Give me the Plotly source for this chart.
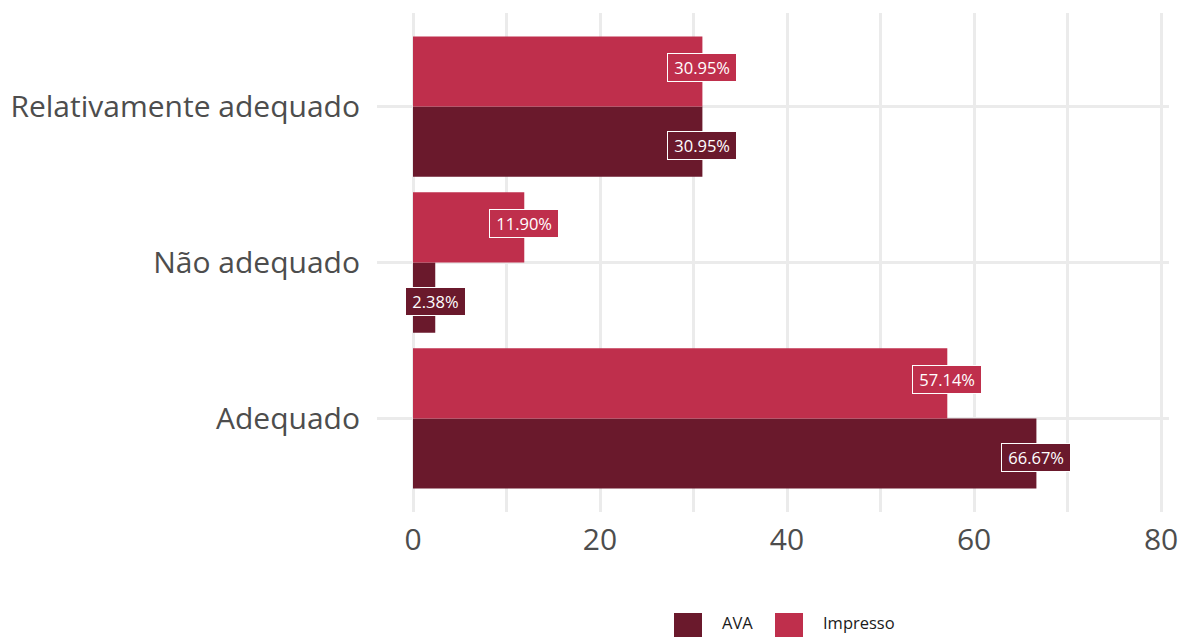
import plotly.graph_objects as go

categories = ["Adequado", "Não adequado", "Relativamente adequado"]
ava = [66.67, 2.38, 30.95]
impresso = [57.14, 11.90, 30.95]
series_names = ["AVA", "Impresso"]
x_ticks = [0, 20, 40, 60, 80]

C_AVA = "#6A192C"
C_IMP = "#BF2F4C"
FONT = "Open Sans"

ypos = list(range(len(categories)))

fig = go.Figure()
fig.add_trace(go.Bar(y=ypos, x=ava, orientation="h", name=series_names[0],
                     marker=dict(color=C_AVA, line=dict(width=0)), showlegend=False))
fig.add_trace(go.Bar(y=ypos, x=impresso, orientation="h", name=series_names[1],
                     marker=dict(color=C_IMP, line=dict(width=0)), showlegend=False))

ann = []
def lab(v):
    return f"&nbsp;{v:.2f}%&nbsp;"
for i, v in enumerate(ava):
    ann.append(dict(x=v, y=i - 0.25, xref="x", yref="y", text=lab(v), showarrow=False,
                    font=dict(family=FONT, size=16.5, color="white"), bgcolor=C_AVA,
                    bordercolor="white", borderwidth=1, borderpad=2))
for i, v in enumerate(impresso):
    ann.append(dict(x=v, y=i + 0.25, xref="x", yref="y", text=lab(v), showarrow=False,
                    font=dict(family=FONT, size=16.5, color="white"), bgcolor=C_IMP,
                    bordercolor="white", borderwidth=1, borderpad=2))

# manual legend (pixel geometry -> paper coords)
L, R, T, B = 377, 1169, 13, 512
W, H = R - L, B - T
def px(x):
    return (x - L) / W
def py(y):
    return (B - y) / H

shapes = []
for (x0, col, name, tx) in [(674, C_AVA, series_names[0], 720), (775, C_IMP, series_names[1], 821)]:
    shapes.append(dict(type="rect", xref="paper", yref="paper", x0=px(x0), x1=px(x0 + 28),
                       y0=py(613), y1=py(640), fillcolor=col, line=dict(width=0), layer="above"))
    ann.append(dict(x=px(tx), y=py(636), xref="paper", yref="paper", text=name, showarrow=False,
                    xanchor="left", yanchor="bottom", font=dict(family=FONT, size=16.5, color="#1A1A1A")))

fig.update_layout(
    width=1187, height=637,
    margin=dict(l=L, r=1187 - R, t=T, b=637 - B, autoexpand=False),
    paper_bgcolor="white", plot_bgcolor="white",
    barmode="group", bargap=0.1, bargroupgap=0,
    annotations=ann, shapes=shapes,
    showlegend=False,
    font=dict(family=FONT),
)
fig.update_xaxes(range=[-3.85, 80.85], tickvals=x_ticks, ticktext=[str(t) for t in x_ticks],
                 automargin=False,
                 showgrid=True, gridcolor="#EBEBEB", gridwidth=2.5,
                 minor=dict(tickvals=[10, 30, 50, 70], showgrid=True, gridcolor="#EBEBEB", gridwidth=2.5),
                 zeroline=False, showline=False, ticks="",
                 tickfont=dict(family=FONT, size=30, color="#4D4D4D"), ticklabelstandoff=7)
fig.update_yaxes(range=[-0.6, 2.6], tickvals=ypos, ticktext=categories,
                 automargin=False,
                 showgrid=True, gridcolor="#EBEBEB", gridwidth=2.5,
                 zeroline=False, showline=False, ticks="",
                 tickfont=dict(family=FONT, size=30, color="#4D4D4D"), ticklabelstandoff=16)

fig.write_html("out.html", config={"displayModeBar": False},
               post_script="document.body.style.margin='0';document.body.style.overflow='hidden';")
